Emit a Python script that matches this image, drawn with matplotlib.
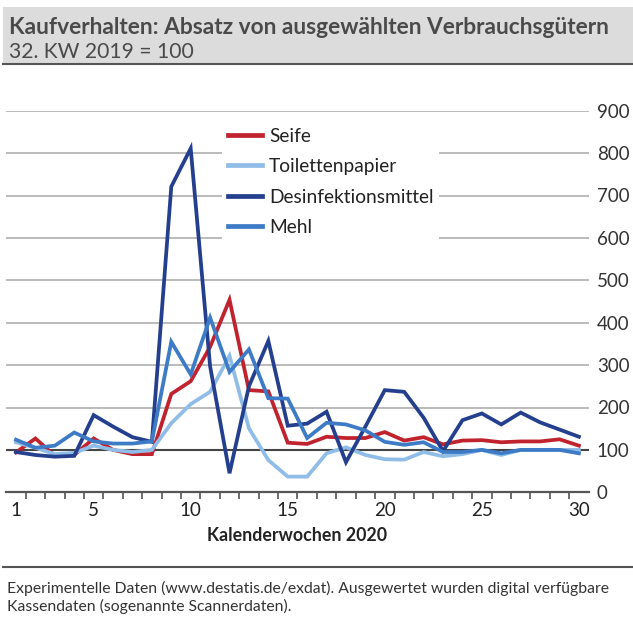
import numpy as np
import matplotlib
matplotlib.use("Agg")
import matplotlib.pyplot as plt
from matplotlib.patches import Rectangle
from matplotlib.lines import Line2D

plt.rcParams['font.family'] = ['Lato', 'DejaVu Sans']

# ------------------------------------------------------------
# DATA (32. KW 2019 = 100)
# ------------------------------------------------------------
weeks = list(range(1, 31))

seife = [94, 127, 86, 88, 127, 100, 90, 90, 232, 262,
         343, 454, 241, 238, 117, 114, 131, 128, 128, 142,
         122, 130, 113, 122, 123, 118, 120, 120, 125, 110]

toilettenpapier = [118, 105, 90, 93, 110, 100, 95, 100, 163, 208,
                   237, 322, 151, 76, 37, 37, 92, 106, 88, 78,
                   77, 95, 85, 90, 100, 88, 100, 100, 100, 100]

desinfektion = [95, 88, 84, 86, 182, 155, 130, 119, 721, 811,
                297, 45, 250, 357, 157, 162, 190, 71, 155, 241,
                237, 176, 97, 170, 186, 160, 188, 165, 148, 131]

mehl = [124, 105, 110, 141, 120, 115, 115, 120, 355, 278,
        412, 284, 337, 222, 221, 128, 164, 160, 146, 119,
        112, 118, 95, 95, 100, 92, 100, 100, 100, 92]

series_names = ["Seife", "Toilettenpapier", "Desinfektionsmittel", "Mehl"]
series_colors = ["#C0222E", "#90BDE7", "#233F8E", "#3D7BC6"]

y_ticks = list(range(0, 1000, 100))
x_labels = [1, 5, 10, 15, 20, 25, 30]

TITLE = "Kaufverhalten: Absatz von ausgewählten Verbrauchsgütern"
SUBTITLE = "32. KW 2019 = 100"
XLABEL = "Kalenderwochen 2020"
FOOTER = ("Experimentelle Daten (www.destatis.de/exdat). Ausgewertet wurden digital verfügbare\n"
          "Kassendaten (sogenannte Scannerdaten).")

W, H = 633, 619


def fx(px):
    return px / W


def fy(py):
    return 1 - py / H


def main():
    fig = plt.figure(figsize=(W / 100, H / 100), dpi=100, facecolor='white')

    # title block
    fig.patches.append(Rectangle((fx(3), fy(63)), 1 - fx(3), fy(7) - fy(63),
                                 transform=fig.transFigure, facecolor='#DCDCDC',
                                 edgecolor='none', zorder=0))
    fig.add_artist(Line2D([fx(3), 1], [fy(64), fy(64)], color='#555555', lw=1.5,
                          transform=fig.transFigure))
    fig.text(fx(9), fy(28), TITLE, fontsize=16.4, fontweight='bold', color='#4A4A4A',
             ha='left', va='center')
    fig.text(fx(9), fy(52), SUBTITLE, fontsize=15.2, color='#4A4A4A',
             ha='left', va='center')

    # footer
    fig.add_artist(Line2D([fx(3), 1], [fy(567), fy(567)], color='#555555', lw=1.5,
                          transform=fig.transFigure))
    fig.text(fx(7), fy(581), FOOTER, fontsize=11.3, color='#333333',
             ha='left', va='top', linespacing=1.2)

    ax = fig.add_axes([fx(6.3), fy(492.3), fx(588.6) - fx(6.3), fy(110.7) - fy(492.3)])

    data = [seife, toilettenpapier, desinfektion, mehl]
    for vals, name, col in zip(data, series_names, series_colors):
        ax.plot(weeks, vals, color=col, lw=2.7, label=name, zorder=3,
                solid_joinstyle='miter')

    ax.set_xlim(0.5, 30.5)
    ax.set_ylim(0, 900)

    for v in y_ticks[2:]:
        ax.axhline(v, color='#A8A8A8', lw=1.1, zorder=1)
    ax.axhline(100, color='#444444', lw=1.5, zorder=2)

    for s in ['top', 'left', 'right']:
        ax.spines[s].set_visible(False)
    ax.spines['bottom'].set_color('#555555')
    ax.spines['bottom'].set_linewidth(1.6)

    ax.yaxis.tick_right()
    ax.set_yticks(y_ticks)
    ax.set_yticklabels([str(v) for v in y_ticks])
    ax.tick_params(axis='y', length=0, pad=6, labelsize=13.5, labelcolor='#333333')

    ax.set_xticks(x_labels)
    ax.set_xticks(np.arange(1.5, 30.5, 1.0), minor=True)
    ax.tick_params(axis='x', which='major', length=0, pad=7, labelsize=13.5,
                   labelcolor='#222222')
    ax.tick_params(axis='x', which='minor', length=5, width=1.2, color='#555555',
                   direction='out')
    ax.set_xlabel(XLABEL, fontsize=12.8, fontweight='bold', color='#222222', labelpad=6)

    leg = ax.legend(loc='upper left', bbox_to_anchor=(fx(222), fy(122)),
                    bbox_transform=fig.transFigure, fontsize=13.8,
                    frameon=True, fancybox=False, framealpha=1,
                    handlelength=1.8, handletextpad=0.35, labelspacing=0.7,
                    borderpad=0.3, borderaxespad=0)
    leg.get_frame().set_facecolor('white')
    leg.get_frame().set_edgecolor('none')
    for line in leg.get_lines():
        line.set_linewidth(3.4)
    for t in leg.get_texts():
        t.set_color('#222222')

    plt.savefig("out.png", dpi=100)
    plt.close()


if __name__ == "__main__":
    main()
